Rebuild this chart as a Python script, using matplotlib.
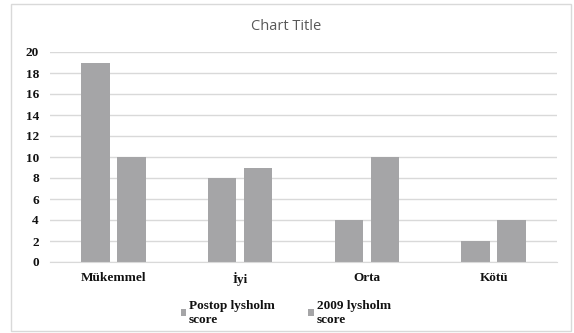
import matplotlib
matplotlib.use("Agg")
import matplotlib.pyplot as plt
import numpy as np
from matplotlib.patches import Rectangle

categories = ["Mükemmel", "İyi", "Orta", "Kötü"]
series_names = ["Postop lysholm\nscore", "2009 lysholm\nscore"]
postop = [19, 8, 4, 2]
score_2009 = [10, 9, 10, 4]
yticks = [0, 2, 4, 6, 8, 10, 12, 14, 16, 18, 20]

W, H = 574, 333
fig = plt.figure(figsize=(W / 100, H / 100), dpi=100)
fig.patch.set_facecolor("white")

# outer chart border
fig.patches.append(Rectangle((11 / W, (H - 331) / H), 560 / W, 327 / H, transform=fig.transFigure,
                             fill=False, edgecolor="#D9D9D9", linewidth=1.0))

ax = fig.add_axes([50 / W, (H - 262) / H, 507 / W, 210 / H])
x = np.arange(len(categories))
bw = 0.225
off = 0.142
bar_color = "#A5A5A7"
b1 = ax.bar(x - off, postop, bw, color=bar_color, label=series_names[0])
b2 = ax.bar(x + off, score_2009, bw, color=bar_color, label=series_names[1])

ax.set_xlim(-0.5, len(categories) - 0.5)
ax.set_ylim(0, 20)
ax.set_yticks(yticks)
ax.yaxis.grid(True, color="#D9D9D9", linewidth=1.0)
ax.set_axisbelow(True)
for s in ["top", "right", "left"]:
    ax.spines[s].set_visible(False)
ax.spines["bottom"].set_color("#D9D9D9")
ax.tick_params(length=0)
ax.tick_params(axis="y", pad=8)
ax.tick_params(axis="x", pad=7)
ax.set_xticks(x)
ax.set_xticklabels(categories)
for lbl in ax.get_xticklabels() + ax.get_yticklabels():
    lbl.set_fontfamily("Liberation Serif")
    lbl.set_fontweight("bold")
    lbl.set_fontsize(9.5)
    lbl.set_color("#111111")

fig.text(286 / W, 1 - 26 / H, "Chart Title", ha="center", va="center",
         fontsize=10.5, color="#595959", family="Open Sans")

leg = fig.legend(handles=[b1, b2], labels=series_names, ncol=2,
                 loc="center left", bbox_to_anchor=(180.5 / W, 1 - 313 / H),
                 frameon=False, prop={"family": "Liberation Serif", "weight": "bold", "size": 9.5},
                 handlelength=0.45, handleheight=0.45, handletextpad=0.2,
                 columnspacing=2.5, borderpad=0, borderaxespad=0)
for t in leg.get_texts():
    t.set_color("#111111")
    t.set_linespacing(1.25)

fig.savefig("out.png", dpi=100)
